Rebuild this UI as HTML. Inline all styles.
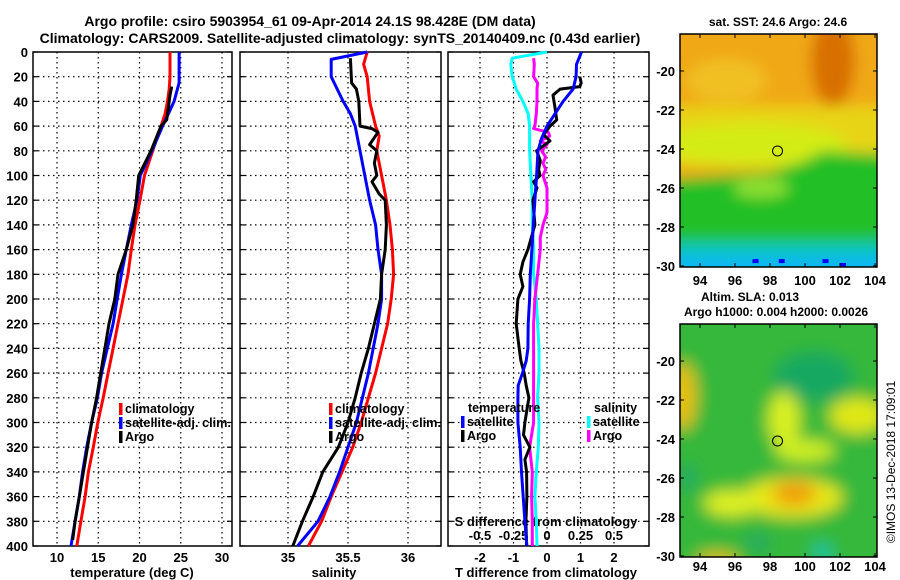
<!DOCTYPE html>
<html><head><meta charset="utf-8">
<style>
body{margin:0;background:#fff;width:900px;height:580px;overflow:hidden}
svg{display:block}
text{font-family:"Liberation Sans",sans-serif;font-weight:bold;fill:#000}
</style></head>
<body>
<svg id="chart" width="900" height="580" xmlns="http://www.w3.org/2000/svg">
<defs>
<filter id="blur1" x="-20%" y="-20%" width="140%" height="140%"><feGaussianBlur stdDeviation="7"/></filter>
<filter id="blur2" x="-20%" y="-20%" width="140%" height="140%"><feGaussianBlur stdDeviation="8"/></filter>
<clipPath id="clipMap1"><rect x="680" y="34" width="197" height="233"/></clipPath>
<clipPath id="clipMap2"><rect x="680" y="324" width="197" height="233"/></clipPath>
</defs>
<text x="310" y="26" font-size="14" text-anchor="middle">Argo profile: csiro 5903954_61 09-Apr-2014 24.1S 98.428E (DM data)</text>
<text x="340" y="43" font-size="14" text-anchor="middle">Climatology: CARS2009. Satellite-adjusted climatology: synTS_20140409.nc (0.43d earlier)</text>
<g id="g"></g>
</svg>
<script>
// ---- data: temperature panel ----
const tRedDepth=[0,10,20,30,40,50,60,80,100,120,140,160,180,200,220,240,260,280,300,320,340,360,380,400];
const tRedVal=[23.7,23.7,23.7,23.6,23.4,23.1,22.6,21.6,20.6,20.06,19.45,19.0,18.6,18.0,17.4,16.8,16.2,15.6,14.95,14.4,13.8,13.4,12.9,12.4];
const tBlueDepth=[0,25,40,50,60,80,100,120,140,160,180,200,220,240,260,280,300,320,340,360,380,400];
const tBlueVal=[24.8,24.8,24.2,23.5,22.8,21.5,20.1,19.7,19.0,18.4,17.8,17.3,16.8,16.1,15.4,14.9,14.2,13.6,13.1,12.7,12.2,11.7];
const tArgoDepth=[28,35,45,55,60,80,100,120,140,160,180,200,220,240,260,280,300,320,340,360,380,395];
const tArgoVal=[23.9,23.7,23.5,23.3,22.6,21.4,19.9,19.6,19.2,18.4,17.4,17.0,16.3,15.8,15.3,14.8,14.2,13.7,13.2,12.7,12.2,11.9];
// ---- data: salinity panel ----
const sRedDepth=[0,10,20,40,60,68,80,100,120,140,160,180,200,220,240,260,280,300,320,340,360,380,400];
const sRedVal=[35.66,35.63,35.66,35.68,35.73,35.76,35.74,35.78,35.82,35.85,35.87,35.88,35.86,35.83,35.78,35.73,35.67,35.61,35.54,35.45,35.36,35.28,35.17];
const sBlueDepth=[0,6,20,30,40,50,60,80,100,120,140,160,180,200,220,240,260,280,300,320,340,360,380,400];
const sBlueVal=[35.66,35.36,35.36,35.41,35.46,35.52,35.56,35.60,35.64,35.68,35.73,35.75,35.78,35.78,35.75,35.71,35.67,35.62,35.57,35.50,35.43,35.35,35.25,35.08];
const sArgoDepth=[5,25,30,40,60,62,65,75,80,90,100,105,115,120,140,160,180,200,220,240,260,280,300,320,340,360,380,400];
const sArgoVal=[35.52,35.53,35.57,35.59,35.60,35.70,35.75,35.68,35.74,35.72,35.74,35.70,35.76,35.81,35.82,35.81,35.78,35.77,35.72,35.67,35.61,35.56,35.50,35.42,35.29,35.21,35.12,35.04];
// ---- data: difference panel ----
const dTSatDepth=[0,10,20,30,40,50,60,70,80,100,120,140,160,180,200,220,240,250,260,270,280,300,320,340,360,380,400];
const dTSatVal=[1.03,0.88,0.87,0.78,0.48,0.24,0,-0.16,-0.27,-0.31,-0.36,-0.41,-0.45,-0.5,-0.52,-0.56,-0.57,-0.62,-0.73,-0.86,-0.87,-0.87,-0.8,-0.76,-0.71,-0.66,-0.6];
const dTArgoDepth=[20,25,28,30,35,45,55,60,67,72,80,88,95,100,105,110,120,140,160,170,180,190,200,220,240,250,260,270,280,300,310,320,330,340,360,380,400];
const dTArgoVal=[0.98,1.02,0.98,0.39,0.18,0.24,0.29,0.09,-0.1,0.09,-0.31,-0.2,-0.25,-0.21,-0.4,-0.3,-0.42,-0.36,-0.57,-0.72,-0.8,-0.72,-0.87,-0.92,-0.83,-0.78,-0.68,-0.62,-0.54,-0.66,-0.7,-0.51,-0.66,-0.61,-0.6,-0.63,-0.61];
const dSSatDepth=[0,5,10,20,30,40,50,60,80,100,120,140,160,180,200,220,240,260,280,300,320,340,360,380,400];
const dSSatVal=[0,-0.26,-0.27,-0.26,-0.23,-0.18,-0.14,-0.13,-0.13,-0.12,-0.11,-0.11,-0.1,-0.1,-0.08,-0.07,-0.06,-0.06,-0.07,-0.06,-0.065,-0.08,-0.09,-0.08,-0.075];
const dSArgoDepth=[5,10,20,25,30,40,50,60,62,65,68,72,75,80,85,90,95,100,110,120,130,140,150,160,180,200,220,240,260,280,300,320,340,360,380,400];
const dSArgoVal=[-0.1,-0.095,-0.1,-0.07,-0.075,-0.075,-0.08,-0.09,-0.1,0.01,0.02,-0.05,0.0,-0.04,-0.01,-0.03,-0.01,-0.03,0.0,0.0,0.0,-0.03,-0.05,-0.05,-0.07,-0.09,-0.1,-0.1,-0.1,-0.1,-0.1,-0.13,-0.11,-0.115,-0.11,-0.11];
// ---- axis ticks ----
const depthTicks=[0,20,40,60,80,100,120,140,160,180,200,220,240,260,280,300,320,340,360,380,400];
const tTicks=[10,15,20,25,30];
const sTicks=[35,35.5,36];
const dTTicks=[-2,-1,0,1,2];
const dSTicks=[-0.5,-0.25,0,0.25,0.5];
const dSTickLabels=["-0.5","-0.25","0","0.25","0.5"];
const lonTicks=[94,96,98,100,102,104];
const latTicks=[-20,-22,-24,-26,-28,-30];
const argoLon=98.43, argoLat=-24.1;

const NS="http://www.w3.org/2000/svg";
const g=document.getElementById('g');
function el(tag,attrs,parent){const e=document.createElementNS(NS,tag);for(const k in attrs)e.setAttribute(k,attrs[k]);(parent||g).appendChild(e);return e;}
function txt(s,x,y,size,anchor){const e=el('text',{x:x,y:y,'font-size':size,'text-anchor':anchor||'middle'});e.textContent=s;return e;}

const yD=d=>52+d*1.235;
const xT=t=>57+(t-10)*8.25;
const xS=s=>288+(s-35)*120;
const xTd=v=>547+v*33.5;
const xSd=v=>547+v*134;
const lonX=l=>700+(l-94)*17.5;
const latY1=l=>71+(-20-l)*19.5;
const latY2=l=>361+(-20-l)*19.5;

const panels=[{x0:33,x1:232,name:'temperature-panel'},{x0:240,x1:441,name:'salinity-panel'},{x0:448,x1:649,name:'difference-panel'}];
panels.forEach((p,i)=>{
  const r=el('rect',{x:p.x0,y:52,width:p.x1-p.x0,height:494,fill:'none',stroke:'#000','stroke-width':1.5});
  
  
  depthTicks.forEach(d=>{
    if(d>0&&d<400){const l=el('line',{x1:p.x0,x2:p.x1,y1:yD(d),y2:yD(d),stroke:'#000','stroke-dasharray':'1.5,3.5','stroke-width':1.2});
    
    }
    el('line',{x1:p.x1-5,x2:p.x1,y1:yD(d),y2:yD(d),stroke:'#000','stroke-width':1.2});
    el('line',{x1:p.x0,x2:p.x0+5,y1:yD(d),y2:yD(d),stroke:'#000','stroke-width':1.2});
  });
});
depthTicks.forEach(d=>{const t=txt(String(d),28,yD(d)+5,13,'end');

});
function vgrid(xs,f){xs.forEach(v=>{const l=el('line',{x1:f(v),x2:f(v),y1:52,y2:546,stroke:'#000','stroke-dasharray':'1.5,3.5','stroke-width':1.2});

});}
vgrid(tTicks,xT);vgrid(sTicks,xS);vgrid(dTTicks,xTd);
tTicks.forEach(v=>{const t=txt(String(v),xT(v),562,13);});
sTicks.forEach(v=>{const t=txt(String(v),xS(v),562,13);});
dTTicks.forEach(v=>{const t=txt(String(v),xTd(v),562,13);});
dSTicks.forEach((v,i)=>{const t=txt(dSTickLabels[i],xSd(v),540,13);});
let a;
a=txt('temperature (deg C)',132,577,13);
a=txt('salinity',334,577,13);
a=txt('T difference from climatology',546,577,13);
a=txt('S difference from climatology',546,526,13);

function series(depths,vals,fx,color,name){
  const pts=depths.map((d,i)=>fx(vals[i]).toFixed(1)+','+yD(d).toFixed(1)).join(' ');
  const l=el('polyline',{points:pts,fill:'none',stroke:color,'stroke-width':3,'stroke-linejoin':'round'});
  
  
}
series(tRedDepth,tRedVal,xT,'#ff0000','temperature-climatology-line');
series(tBlueDepth,tBlueVal,xT,'#0000ff','temperature-satellite-line');
series(tArgoDepth,tArgoVal,xT,'#000000','temperature-argo-line');
series(sRedDepth,sRedVal,xS,'#ff0000','salinity-climatology-line');
series(sBlueDepth,sBlueVal,xS,'#0000ff','salinity-satellite-line');
series(sArgoDepth,sArgoVal,xS,'#000000','salinity-argo-line');
series(dSSatDepth,dSSatVal,xSd,'#00ffff','s-diff-satellite-line');
series(dSArgoDepth,dSArgoVal,xSd,'#ff00ff','s-diff-argo-line');
series(dTArgoDepth,dTArgoVal,xTd,'#000000','t-diff-argo-line');
series(dTSatDepth,dTSatVal,xTd,'#0000ff','t-diff-satellite-line');

function legend(x,y,color,label,name){
  const m=el('rect',{x:x,y:y-10,width:3.5,height:12,fill:color});
  
  
  const t=txt(label,x+6,y,12.5,'start');
  
  
  if(label.length>15){t.setAttribute('textLength',106);t.setAttribute('lengthAdjust','spacingAndGlyphs');}
}
legend(119,413,'#ff0000','climatology','legend-climatology');
legend(119,427,'#0000ff','satellite-adj. clim.','legend-satellite');
legend(119,441,'#000000','Argo','legend-argo');
legend(329,413,'#ff0000','climatology','legend-sal-climatology');
legend(329,427,'#0000ff','satellite-adj. clim.','legend-sal-satellite');
legend(329,441,'#000000','Argo','legend-sal-argo');
a=txt('temperature',468,412,12.5,'start');
legend(461,426,'#0000ff','satellite','legend-t-satellite');
legend(461,440,'#000000','Argo','legend-t-argo');
a=txt('salinity',594,412,12.5,'start');
legend(587,426,'#00ffff','satellite','legend-s-satellite');
legend(587,440,'#ff00ff','Argo','legend-s-argo');

// ---- map 1 : SST ----
const m1=el('g',{'clip-path':'url(#clipMap1)'});


const bg1=el('g',{filter:'url(#blur1)'},m1);
el('rect',{x:660,y:10,width:240,height:280,fill:'#f0a818'},bg1);
el('ellipse',{cx:lonX(95.5),cy:latY1(-20.5),rx:40,ry:22,fill:'#f0c020'},bg1);
el('rect',{x:660,y:latY1(-21.8),width:240,height:60,fill:'#e8d418'},bg1);
el('ellipse',{cx:lonX(101.6),cy:latY1(-19.5),rx:22,ry:45,fill:'#d87000'},bg1);
el('ellipse',{cx:lonX(97),cy:latY1(-23.8),rx:95,ry:22,fill:'#d4ec18'},bg1);
el('path',{d:`M660,${latY1(-25.6)} L${lonX(98)},${latY1(-25.2)} L${lonX(100)},${latY1(-24.6)} L${lonX(101)},${latY1(-24.1)} L900,${latY1(-24.3)} L900,300 L660,300Z`,fill:'#20c028'},bg1);
el('ellipse',{cx:lonX(97.5),cy:latY1(-26),rx:28,ry:10,fill:'#8ee030'},bg1);
el('rect',{x:660,y:latY1(-28.7),width:240,height:60,fill:'#08c8b0'},bg1);
el('rect',{x:660,y:latY1(-29.4),width:240,height:60,fill:'#10b8f0'},bg1);
[[97,-29.8],[98.5,-29.8],[101,-29.8],[102,-30]].forEach(p=>el('rect',{x:lonX(p[0]),y:latY1(p[1])-3,width:6,height:4,fill:'#0000ff'},m1));
el('rect',{x:680,y:34,width:197,height:233,fill:'none',stroke:'#000','stroke-width':1.5});
const c1=el('circle',{cx:lonX(argoLon),cy:latY1(argoLat),r:5,fill:'none',stroke:'#000','stroke-width':1});



// ---- map 2 : SLA ----
const m2=el('g',{'clip-path':'url(#clipMap2)'});


const bg2=el('g',{filter:'url(#blur2)'},m2);
el('rect',{x:660,y:300,width:240,height:280,fill:'#34b83a'},bg2);
el('ellipse',{cx:lonX(100.5),cy:latY2(-20.8),rx:40,ry:25,fill:'#18a860'},bg2);
el('ellipse',{cx:lonX(93),cy:latY2(-21.8),rx:14,ry:34,fill:'#e8c010'},bg2);
el('ellipse',{cx:lonX(98.8),cy:latY2(-23),rx:16,ry:28,fill:'#d8f020'},bg2);
el('ellipse',{cx:lonX(103),cy:latY2(-22.8),rx:28,ry:18,fill:'#e0e818'},bg2);
el('ellipse',{cx:lonX(100),cy:latY2(-24.6),rx:30,ry:11,fill:'#d0f020'},bg2);
el('ellipse',{cx:lonX(99.3),cy:latY2(-27),rx:50,ry:20,fill:'#e8e818'},bg2);
el('ellipse',{cx:lonX(95.8),cy:latY2(-27.3),rx:28,ry:13,fill:'#e0f020'},bg2);
el('ellipse',{cx:lonX(99.4),cy:latY2(-26.8),rx:22,ry:13,fill:'#f0a010'},bg2);
el('ellipse',{cx:lonX(95),cy:latY2(-30.2),rx:22,ry:7,fill:'#f0c010'},bg2);
el('ellipse',{cx:lonX(101),cy:latY2(-29.8),rx:10,ry:8,fill:'#10c8b0'},bg2);
el('ellipse',{cx:lonX(97.3),cy:latY2(-29.3),rx:12,ry:8,fill:'#20a868'},bg2);
el('ellipse',{cx:lonX(93.3),cy:latY2(-26),rx:8,ry:14,fill:'#20a868'},bg2);
el('rect',{x:680,y:324,width:197,height:233,fill:'none',stroke:'#000','stroke-width':1.5});
const c2=el('circle',{cx:lonX(argoLon),cy:latY2(argoLat),r:5,fill:'none',stroke:'#000','stroke-width':1});



[[latY1,34,267,285],[latY2,324,557,571]].forEach(([fy,top,bot,ly])=>{
  lonTicks.forEach(v=>{
    el('line',{x1:lonX(v),x2:lonX(v),y1:top,y2:top+4,stroke:'#000'});
    el('line',{x1:lonX(v),x2:lonX(v),y1:bot-4,y2:bot,stroke:'#000'});
    const t=txt(String(v),lonX(v),ly,13);
    
    
  });
  latTicks.forEach(v=>{
    el('line',{x1:680,x2:684,y1:fy(v),y2:fy(v),stroke:'#000'});
    el('line',{x1:873,x2:877,y1:fy(v),y2:fy(v),stroke:'#000'});
    const t=txt(String(v),675,fy(v)+5,13,'end');
    
    
  });
});
a=txt('sat. SST: 24.6 Argo: 24.6',778,26,12);
a=txt('Altim. SLA: 0.013',750,301,12);
a=txt('Argo h1000: 0.004 h2000: 0.0026',776,316,12);
a=el('text',{x:0,y:0,'font-size':12,'text-anchor':'middle',transform:'translate(895,462) rotate(-90)'});
a.style.fontWeight='normal';
a.textContent='©IMOS 13-Dec-2018 17:09:01';


</script>
</body></html>
